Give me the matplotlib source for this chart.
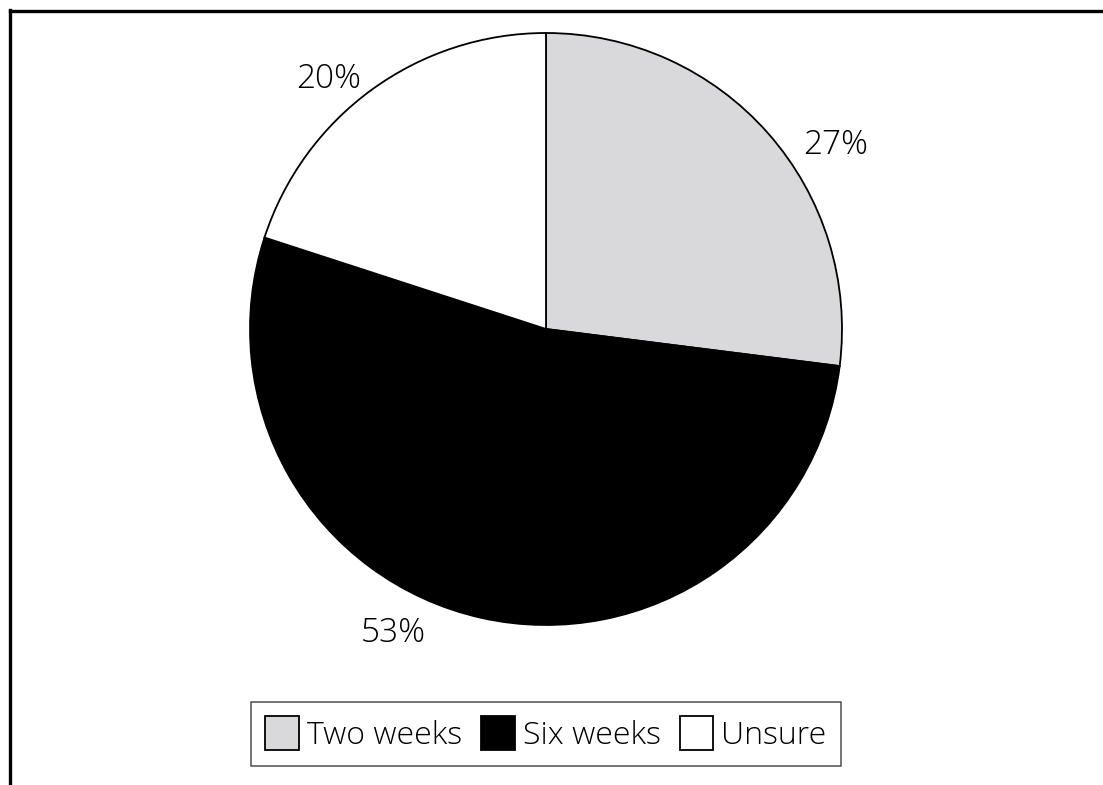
import numpy as np
import matplotlib.pyplot as plt
from matplotlib.lines import Line2D

categories = ["Two weeks", "Six weeks", "Unsure"]
shares = [27, 53, 20]
colors = ["#d9d9db", "#000000", "#ffffff"]

plt.rcParams['font.family'] = ['Open Sans', 'DejaVu Sans']
plt.rcParams['font.weight'] = 'light'

W, H = 1103, 785
fig = plt.figure(figsize=(W / 100, H / 100), dpi=100)

# outer frame: only the left and top edges are visible
fig.add_artist(Line2D([10 / W, 10 / W], [0, 1 - 10 / H], color="black", lw=2.4, transform=fig.transFigure))
fig.add_artist(Line2D([10 / W, 1], [1 - 11 / H, 1 - 11 / H], color="black", lw=2.4, transform=fig.transFigure))

cx, cy, r = 546, 329, 296
ax = fig.add_axes([(cx - r) / W, 1 - (cy + r) / H, 2 * r / W, 2 * r / H])
wedges, _ = ax.pie(shares, colors=colors, startangle=90, counterclock=False,
                   wedgeprops=dict(edgecolor="black", linewidth=1.3))
ax.set_xlim(-1, 1)
ax.set_ylim(-1, 1)
ax.set_aspect("equal")

# percentage labels, nudged round the rim like the original
offsets = [-9, -14, 5]
dists = [1.16, 1.15, 1.12]
start = 90
for share, off, d in zip(shares, offsets, dists):
    mid = start - share * 360 / 100 / 2
    a = np.radians(mid + off)
    ax.text(d * np.cos(a), d * np.sin(a), f"{share}%", ha="center", va="center", fontsize=24)
    start -= share * 360 / 100

leg = fig.legend(wedges, categories, loc="center", bbox_to_anchor=(cx / W, 1 - 734 / H),
                 ncol=3, fontsize=23, frameon=True, fancybox=False, edgecolor="#222222",
                 handlelength=1.05, handleheight=1.25, handletextpad=0.25, columnspacing=0.6,
                 borderpad=0.45, borderaxespad=0)
leg.get_frame().set_linewidth(1.1)

fig.savefig("out.png", dpi=100)
